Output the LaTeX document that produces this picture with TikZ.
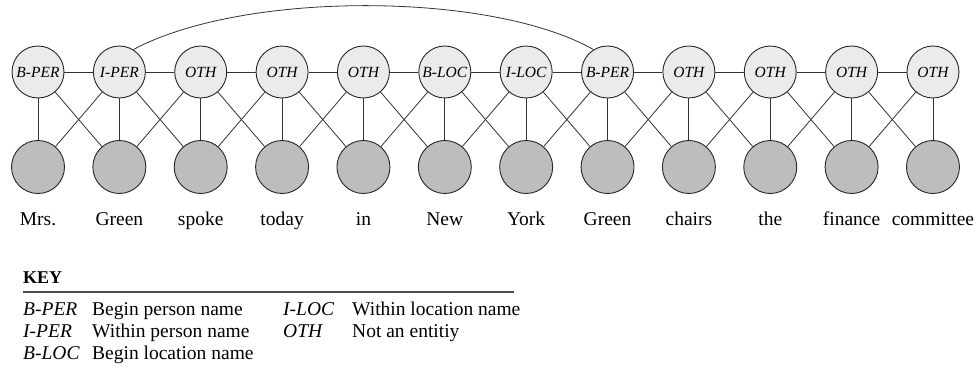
\documentclass[tikz,border=0pt]{standalone}
\usepackage{fontspec}
\setmainfont{Liberation Serif}

\begin{document}
\begin{tikzpicture}[
    x=1pt, y=-1pt,
    tag/.style={circle, draw=black!85, line width=0.9pt, fill=black!8,
        minimum size=52pt, inner sep=0pt, font=\fontsize{15.5}{15.5}\selectfont\itshape},
    tok/.style={circle, draw=black!85, line width=0.9pt, fill=black!26,
        minimum size=53pt, inner sep=0pt},
    link/.style={draw=black!80, line width=0.8pt},
    word/.style={font=\fontsize{19.5}{19.5}\selectfont, anchor=base},
    keytxt/.style={font=\fontsize{19.5}{19.5}\selectfont, anchor=base west, inner sep=0pt}
]
    \useasboundingbox (0,0) rectangle (979,369);%page size

    \foreach \t [count=\i] in {B-PER,I-PER,OTH,OTH,OTH,B-LOC,I-LOC,B-PER,OTH,OTH,OTH,OTH}{
        \node[tag] (t\i) at ({38+81.36*(\i-1)},72) {\t};
        \node[tok] (o\i) at ({38+81.36*(\i-1)},167) {};
    }
    \foreach \w [count=\i] in {Mrs.,Green,spoke,today,in,New,York,Green,chairs,the,finance,committee}{
        \node[word] (w\i) at ({38+81.36*(\i-1)},225) {\w};
    }

    \foreach \i [evaluate=\i as \j using int(\i+1)] in {1,...,11}{
        \draw[link] (t\i) -- (t\j);
        \draw[link] (t\i) -- (o\j);
        \draw[link] (o\i) -- (t\j);
    }
    \foreach \i in {1,...,12}{
        \draw[link] (t\i) -- (o\i);
    }
    \draw[link] (t2.58) .. controls (242,-9) and (490,-9) .. (t8.122);%long jump

    %key
    \node[keytxt, font=\fontsize{18}{18}\selectfont\bfseries] (key) at (23,283) {KEY};
    \coordinate (rulel) at (23,292);
    \coordinate (ruler) at (514,292);
    \draw[draw=black!70, line width=1.2pt] (rulel) -- (ruler);

    \foreach \a/\b/\x/\y [count=\i] in {B-PER/Begin person name/23/315,
        I-PER/Within person name/23/337, B-LOC/Begin location name/23/359,
        I-LOC/Within location name/283/315, OTH/Not an entitiy/283/337}{
        \node[keytxt, font=\fontsize{19.5}{19.5}\selectfont\itshape] (k\i) at (\x,\y) {\a};
        \node[keytxt] (d\i) at ({\x+69},\y) {\b};
    }
\end{tikzpicture}
\end{document}
